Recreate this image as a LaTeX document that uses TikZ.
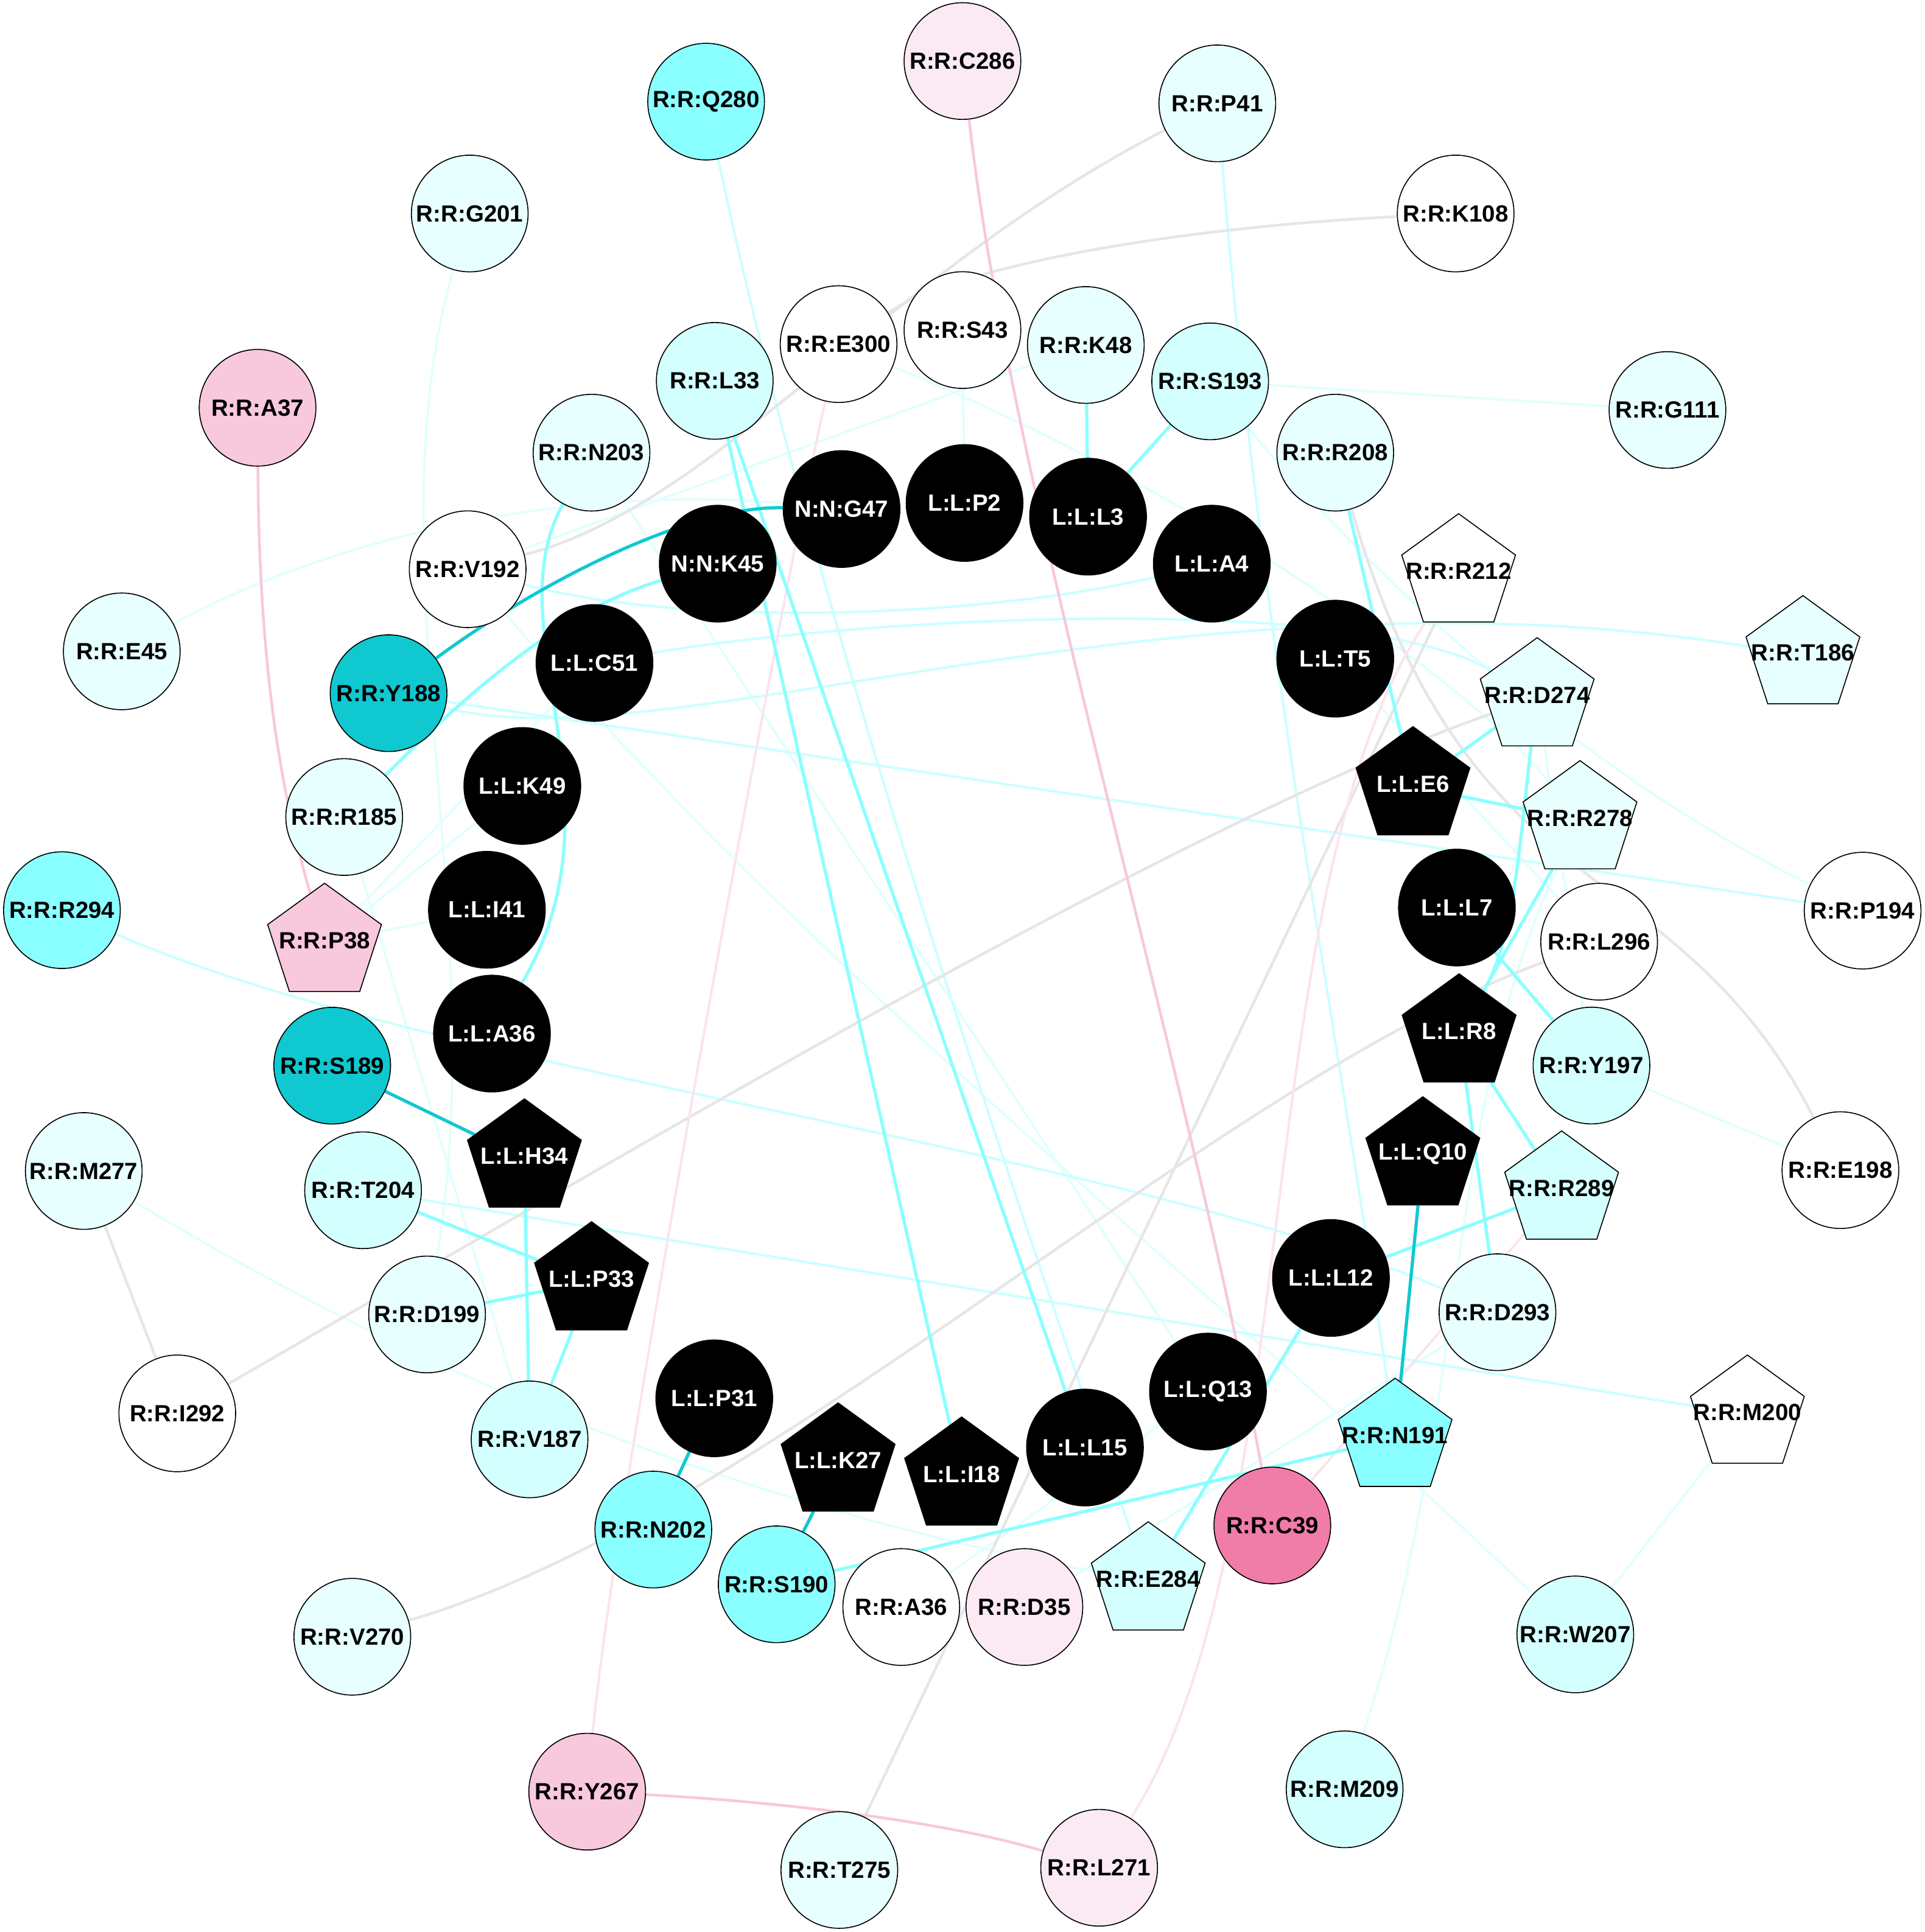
\documentclass[tikz,border=0pt]{standalone}
\usepackage{fontspec}
\setmainfont{Liberation Sans}
\usetikzlibrary{shapes.geometric,backgrounds}
\definecolor{bcy}{HTML}{8AFFFF}
\definecolor{tea}{HTML}{10C8D0}
\definecolor{lcy}{HTML}{D4FFFF}
\definecolor{vcy}{HTML}{E8FFFF}
\definecolor{lpk}{HTML}{FBEAF3}
\definecolor{pk}{HTML}{F8C8DC}
\definecolor{hpk}{HTML}{F07CA8}
\definecolor{elc}{HTML}{CCFFFF}
\definecolor{evc}{HTML}{E0FFFF}
\definecolor{gry}{HTML}{E6E6E6}
\definecolor{elpk}{HTML}{FBE4EE}
\begin{document}
\begin{tikzpicture}[x=1pt,y=-1pt,
  every node/.style={font=\fontsize{19}{22}\selectfont\bfseries, inner sep=0pt},
  rc/.style={circle, draw=black, line width=0.8pt, minimum size=94.6pt},
  rp/.style={regular polygon, regular polygon sides=5, draw=black, line width=0.8pt, minimum size=97pt, label={[yshift=2pt]center:{#1}}},
  lp/.style={regular polygon, regular polygon sides=5, draw=black, line width=0.8pt, minimum size=97pt, fill=black, label={[text=white,yshift=2pt]center:{#1}}},
  lig/.style={fill=black, text=white},
  eb/.style={draw=bcy, line width=2.6pt},
  et/.style={draw=tea, line width=2.6pt},
  el/.style={draw=elc, line width=2pt},
  ev/.style={draw=evc, line width=1.8pt},
  eg/.style={draw=gry, line width=2.2pt},
  ep/.style={draw=pk, line width=2.2pt},
  elp/.style={draw=elpk, line width=2pt}]
\useasboundingbox (0,0) rectangle (1560,1566.4);
% nodes
\node[rc,fill=lpk] (rC286) at (780.2,49.5) {R:R:C286};
\node[rc,fill=bcy] (rQ280) at (572.4,82.4) {R:R:Q280};
\node[rc,fill=vcy] (rP41) at (986.8,83.8) {R:R:P41};
\node[rc,fill=vcy] (rG201) at (380.8,173.1) {R:R:G201};
\node[rc,fill=white] (rK108) at (1180,173.1) {R:R:K108};
\node[rc,fill=white] (rE300) at (679.8,279) {R:R:E300};
\node[rc,fill=white] (rS43) at (780.2,267.6) {R:R:S43};
\node[rc,fill=vcy] (rK48) at (880.2,279.7) {R:R:K48};
\node[rc,fill=lcy] (rL33) at (579.4,308.8) {R:R:L33};
\node[rc,fill=lcy] (rS193) at (981,309.2) {R:R:S193};
\node[rc,fill=vcy] (rG111) at (1351.7,332.4) {R:R:G111};
\node[rc,fill=pk] (rA37) at (208.8,330.6) {R:R:A37};
\node[rc,fill=vcy] (rN203) at (479.5,367) {R:R:N203};
\node[rc,fill=vcy] (rR208) at (1082.4,367) {R:R:R208};
\node[rc,lig] (nG47) at (682.2,412.7) {N:N:G47};
\node[rc,lig] (lP2) at (781.9,407.8) {L:L:P2};
\node[rc,lig] (lL3) at (882,418.9) {L:L:L3};
\node[rc,lig] (lA4) at (982.3,457) {L:L:A4};
\node[rc,lig] (nK45) at (581.8,457) {N:N:K45};
\node[rc,fill=white] (rV192) at (379.1,461.5) {R:R:V192};
\node[rp={R:R:R212},fill=white] (rR212) at (1182.4,465) {};
\node[rc,fill=vcy] (rE45) at (98.7,528.1) {R:R:E45};
\node[rp={R:R:T186},fill=vcy] (rT186) at (1461.5,531.4) {};
\node[rc,fill=tea] (rY188) at (315,562) {R:R:Y188};
\node[rc,lig] (lC51) at (481.9,537.5) {L:L:C51};
\node[rc,lig] (lT5) at (1082.4,534) {L:L:T5};
\node[rp={R:R:D274},fill=vcy] (rD274) at (1246.1,565.5) {};
\node[rc,lig] (lK49) at (423.4,637.2) {L:L:K49};
\node[lp={L:L:E6}] (lE6) at (1145.4,637.6) {};
\node[rc,fill=vcy] (rR185) at (279,662.4) {R:R:R185};
\node[rp={R:R:R278},fill=vcy] (rR278) at (1280.8,665.2) {};
\node[rc,fill=bcy] (rR294) at (50.2,737.9) {R:R:R294};
\node[rp={R:R:P38},fill=pk] (rP38) at (263.1,764.6) {};
\node[rc,lig] (lI41) at (394.7,737.6) {L:L:I41};
\node[rc,lig] (lL7) at (1181,735.8) {L:L:L7};
\node[rc,fill=white] (rL296) at (1296.3,763.5) {R:R:L296};
\node[rc,fill=white] (rP194) at (1509.9,738.3) {R:R:P194};
\node[rc,lig] (lA36) at (398.8,838) {L:L:A36};
\node[lp={L:L:R8}] (lR8) at (1182.8,838) {};
\node[rc,fill=tea] (rS189) at (269.3,864) {R:R:S189};
\node[rc,fill=lcy] (rY197) at (1290.1,863.9) {R:R:Y197};
\node[lp={L:L:H34}] (lH34) at (425.1,939.4) {};
\node[lp={L:L:Q10}] (lQ10) at (1153.4,937.7) {};
\node[rc,fill=vcy] (rM277) at (67.9,949.4) {R:R:M277};
\node[rc,fill=white] (rE198) at (1491.9,948.7) {R:R:E198};
\node[rc,fill=lcy] (rT204) at (294.3,965) {R:R:T204};
\node[rp={R:R:R289},fill=lcy] (rR289) at (1265.9,965.4) {};
\node[lp={L:L:P33}] (lP33) at (479.5,1039) {};
\node[rc,lig] (lL12) at (1078.9,1036.1) {L:L:L12};
\node[rc,fill=vcy] (rD199) at (346.2,1065.7) {R:R:D199};
\node[rc,fill=vcy] (rD293) at (1213.9,1063.9) {R:R:D293};
\node[rc,fill=white] (rI292) at (143.7,1145.9) {R:R:I292};
\node[rp={R:R:M200},fill=white] (rM200) at (1416.5,1147.1) {};
\node[rc,lig] (lP31) at (579,1133.7) {L:L:P31};
\node[rc,lig] (lQ13) at (979.2,1128.2) {L:L:Q13};
\node[rc,fill=lcy] (rV187) at (429.3,1167) {R:R:V187};
\node[rp={R:R:N191},fill=bcy] (rN191) at (1130.9,1165.9) {};
\node[lp={L:L:K27}] (lK27) at (679.4,1185.9) {};
\node[lp={L:L:I18}] (lI18) at (779.5,1197.3) {};
\node[rc,lig] (lL15) at (879.5,1173.6) {L:L:L15};
\node[rc,fill=bcy] (rN202) at (529.6,1240.1) {R:R:N202};
\node[rc,fill=hpk] (rC39) at (1031.4,1236.8) {R:R:C39};
\node[rc,fill=bcy] (rS190) at (629.6,1284.5) {R:R:S190};
\node[rc,fill=white] (rA36) at (730.6,1302.9) {R:R:A36};
\node[rc,fill=lpk] (rD35) at (830.4,1302.9) {R:R:D35};
\node[rp={R:R:E284},fill=lcy] (rE284) at (930.8,1282.3) {};
\node[rc,fill=vcy] (rV270) at (285.6,1327) {R:R:V270};
\node[rc,fill=lcy] (rW207) at (1277,1325.1) {R:R:W207};
\node[rc,fill=pk] (rY267) at (476,1452.6) {R:R:Y267};
\node[rc,fill=lcy] (rM209) at (1090,1450.7) {R:R:M209};
\node[rc,fill=vcy] (rT275) at (680.4,1516.1) {R:R:T275};
\node[rc,fill=lpk] (rL271) at (891,1514.3) {R:R:L271};
% edges
\begin{pgfonlayer}{background}
\fill[white] (0,0) rectangle (1560,1566.4);
% very light
\draw[ev] (rG201) .. controls (300,450) and (400,750) .. (rD199);
\draw[ev] (rE45) .. controls (300,420) and (500,395) .. (nG47);
\draw[ev] (rV192) -- (rK48);
\draw[ev] (rS43) -- (lP2);
\draw[ev] (rS193) -- (rG111);
\draw[ev] (rS193) .. controls (1080,430) and (1250,610) .. (rP194);
\draw[ev] (rE300) .. controls (950,390) and (1180,540) .. (rR278);
\draw[ev] (rN203) -- (lQ13);
\draw[ev] (rV192) .. controls (650,780) and (1000,1060) .. (rW207);
\draw[ev] (rP38) -- (lC51);
\draw[ev] (rP38) -- (lK49);
\draw[ev] (rP38) -- (lI41);
\draw[ev] (rR185) -- (rV187);
\draw[ev] (rM277) .. controls (350,1120) and (600,1220) .. (rE284);
\draw[ev] (lT5) -- (rL296);
\draw[ev] (rD274) -- (rY197);
\draw[ev] (rY197) -- (rE198);
\draw[ev] (rW207) -- (rM200);
\draw[ev] (rD35) -- (rD293);
\draw[ev] (rA36) -- (lQ13);
\draw[ev] (rM209) .. controls (1190,1150) and (1170,900) .. (rR278);
% light
\draw[el] (rQ280) .. controls (650,450) and (780,850) .. (rE284);
\draw[el] (rY188) -- (rP194);
\draw[el] (rY188) .. controls (540,620) and (960,450) .. (rT186);
\draw[el] (rV192) .. controls (560,510) and (800,500) .. (lA4);
\draw[el] (lC51) .. controls (700,500) and (1100,480) .. (rD274);
\draw[el] (rR294) .. controls (350,870) and (900,930) .. (rD293);
\draw[el] (rT204) -- (rM200);
\draw[el] (rP41) .. controls (1025,550) and (1080,800) .. (rN191);
% gray
\draw[eg] (rK108) .. controls (950,185) and (780,215) .. (rE300);
\draw[eg] (rV192) .. controls (580,410) and (720,220) .. (rP41);
\draw[eg] (rM277) -- (rI292);
\draw[eg] (rI292) .. controls (500,940) and (950,670) .. (rD274);
\draw[eg] (rV270) .. controls (620,1230) and (980,880) .. (rL296);
\draw[eg] (rT275) -- (rR212);
\draw[eg] (rR208) .. controls (1190,740) and (1360,690) .. (rE198);
% pink
\draw[elp] (rE300) .. controls (640,450) and (500,1200) .. (rY267);
\draw[elp] (rR212) .. controls (1010,720) and (1060,1250) .. (rL271);
\draw[elp] (rC39) -- (rR289);
\draw[ep] (rC286) .. controls (820,400) and (960,850) .. (rC39);
\draw[ep] (rA37) .. controls (210,550) and (230,650) .. (rP38);
\draw[ep] (rY267) .. controls (620,1460) and (760,1475) .. (rL271);
% bright
\draw[eb] (rL33) -- (lI18);
\draw[eb] (rL33) -- (lL15);
\draw[eb] (lL3) -- (rK48);
\draw[eb] (lL3) -- (rS193);
\draw[eb] (nK45) .. controls (470,490) and (400,540) .. (rR185);
\draw[eb] (rN203) .. controls (400,510) and (510,650) .. (lA36);
\draw[eb] (rR208) -- (lE6);
\draw[eb] (lE6) -- (rD274);
\draw[eb] (lE6) -- (rR278);
\draw[eb] (rD274) .. controls (1232,680) and (1228,760) .. (lR8);
\draw[eb] (rR278) -- (lR8);
\draw[eb] (lL7) -- (rY197);
\draw[eb] (lR8) -- (rD293);
\draw[eb] (lR8) -- (rR289);
\draw[eb] (lL12) -- (rR289);
\draw[eb] (lL12) -- (rE284);
\draw[eb] (rN191) -- (rS190);
\draw[eb] (lH34) -- (rV187);
\draw[eb] (lP33) -- (rV187);
\draw[eb] (lP33) -- (rD199);
\draw[eb] (lP33) -- (rT204);
% teal
\draw[et] (nG47) .. controls (560,410) and (440,470) .. (rY188);
\draw[et] (rS189) -- (lH34);
\draw[et] (lQ10) -- (rN191);
\draw[et] (lP31) -- (rN202);
\draw[et] (lK27) -- (rS190);
\end{pgfonlayer}
\end{tikzpicture}
\end{document}
